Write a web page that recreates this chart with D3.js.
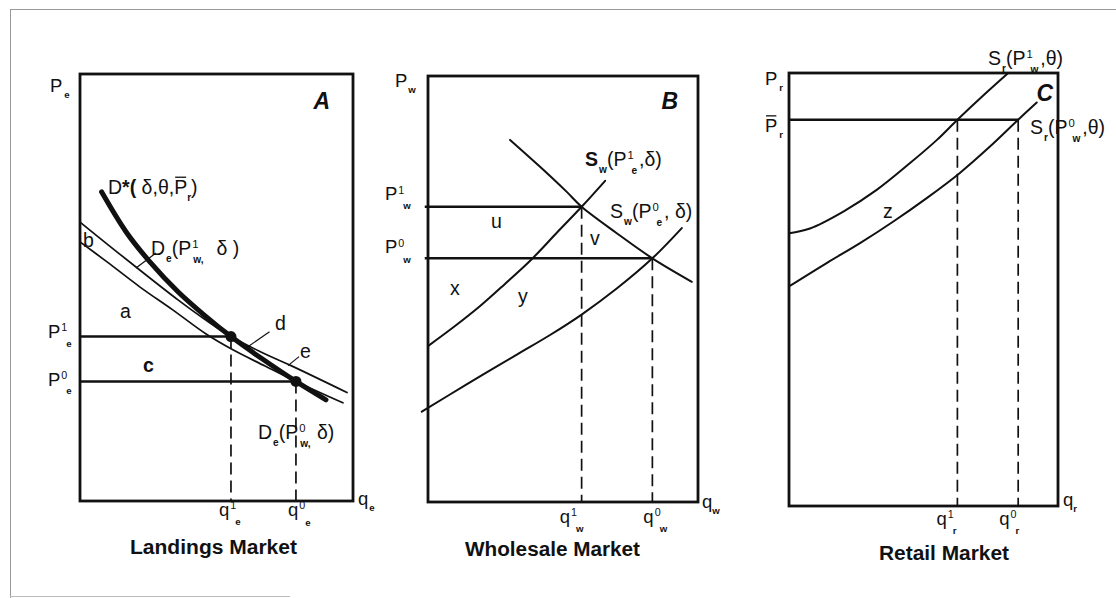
<!DOCTYPE html>
<html><head><meta charset="utf-8">
<script src="https://cdn.jsdelivr.net/npm/d3@7"></script>
<style>
html,body{margin:0;padding:0;background:#fff;}
svg{display:block;}
text{font-family:"Liberation Sans",Arial,Helvetica,sans-serif;fill:#111;white-space:pre;}
</style></head><body>
<svg id="chart" width="1116" height="598"></svg>
<script>
// ---------- curves as (quantity, price) pairs, 0–100 units per panel ----------
// A: landings market
const landingsDStar  = [[7.9,72.4],[16.9,63.0],[25.6,56.0],[35.9,49.0],[45.4,43.6],[55.3,38.5],[66.7,33.3],[79.1,28.0],[90.1,23.7]];
const landingsDeHigh = [[0,65.3],[10.3,60.0],[20.5,54.8],[35.9,47.1],[45.8,42.5],[55.3,38.5],[65.9,35.0],[77.3,31.7],[97.8,25.4]];
const landingsDeLow  = [[0,60.7],[9.9,56.0],[22.0,50.1],[34.1,44.7],[46.2,39.1],[56.0,35.4],[67.8,31.6],[79.1,28.0],[96.3,23.0]];
const landingsPrice  = [38.5, 28.0];   // P1e, P0e
const landingsQty    = [55.3, 79.1];   // q1e, q0e

// B: wholesale market
const wholesaleDemand     = [[30.4,85.0],[41.5,78.7],[51.4,72.8],[56.9,69.3],[69.9,63.1],[83.1,57.2],[97.7,51.7]];
const wholesaleSupplyHigh = [[0,36.6],[10,41.3],[19.3,46.0],[28.5,51.2],[38.4,57.0],[47.7,63.2],[56.9,69.3],[65.6,75.4]];
const wholesaleSupplyLow  = [[-2.3,21.2],[14.3,27.6],[32.9,34.6],[45.2,39.2],[56.9,44.0],[69.9,50.1],[83.1,57.2],[94.0,64.3]];
const wholesalePrice = [69.3, 57.2];   // P1w, P0w
const wholesaleQty   = [56.9, 83.1];   // q1w, q0w

// C: retail market
const retailSupplyHigh = [[0,63.0],[7.8,64.1],[20.2,68.0],[32.6,73.0],[45.0,79.2],[54.9,84.5],[62.6,89.2],[72.2,94.8],[81.5,100]];
const retailSupplyLow  = [[0,50.7],[14.0,56.1],[26.4,60.7],[38.8,65.7],[51.2,71.1],[63.3,76.8],[74.7,83.0],[85.2,89.2],[92.1,93.2]];
const retailPrice = 89.2;              // P-bar r
const retailQty   = [62.6, 85.2];      // q1r, q0r

const panelTitles = ["Landings Market", "Wholesale Market", "Retail Market"];
const panelLetters = ["A", "B", "C"];

// ---------- drawing ----------
const svg = d3.select("#chart");
const INK = "#111";
const LBL = 19.5;   // curve-label size
const AX = 18.5;    // axis-label size

// scanned-page border
svg.append("line").attr("x1",10).attr("y1",9.5).attr("x2",1116).attr("y2",9.5).attr("stroke","#999").attr("stroke-width",1);
svg.append("line").attr("x1",10.5).attr("y1",9).attr("x2",10.5).attr("y2",598).attr("stroke","#999").attr("stroke-width",1);
svg.append("line").attr("x1",10).attr("y1",596.5).attr("x2",290).attr("y2",596.5).attr("stroke","#bbb").attr("stroke-width",1);

const xA = d3.scaleLinear([0,100],[80,353]),  yA = d3.scaleLinear([0,100],[501,74]);
const xB = d3.scaleLinear([0,100],[428,698]), yB = d3.scaleLinear([0,100],[502,76]);
const xC = d3.scaleLinear([0,100],[789,1058]), yC = d3.scaleLinear([0,100],[506,73]);

// text made of normal / superscript / subscript pieces
function rich(x, y, parts, base = LBL, anchor = "start") {
  const grp = svg.append("g");
  let cx = x, lastX = x;
  parts.forEach(p => {
    const k = p.k || "n";
    const size = k === "sup" ? base * 0.58 : k === "sub" ? base * 0.52 : base;
    const dy = (k === "sup" ? -base * 0.36 : k === "sub" ? base * 0.34 : 0) + (p.dy || 0);
    const sx = (p.stack ? lastX : cx) + (p.dx || 0);
    const t = grp.append("text").attr("x", sx).attr("y", y + dy).attr("font-size", size)
      .attr("xml:space", "preserve").text(p.t);
    if (p.w) t.attr("font-weight", p.w);
    if (p.i) t.attr("font-style", "italic");
    const w = t.node().getComputedTextLength();
    if (p.bar) grp.append("line").attr("x1", sx + 1).attr("x2", sx + w - 1)
      .attr("y1", y - base * 0.86).attr("y2", y - base * 0.86).attr("stroke", INK).attr("stroke-width", 1.3);
    if (!p.stack) lastX = sx;
    cx = Math.max(cx, sx + w);
  });
  if (anchor !== "start") {
    const total = cx - x;
    grp.attr("transform", `translate(${anchor === "middle" ? -total / 2 : -total},0)`);
  }
  return grp;
}
function plain(x, y, s, size = 19.5, weight = "normal") {
  return svg.append("text").attr("x", x).attr("y", y).attr("font-size", size).attr("font-weight", weight).text(s);
}
function curve(data, xs, ys, width) {
  svg.append("path").datum(data)
    .attr("d", d3.line().x(d => xs(d[0])).y(d => ys(d[1])).curve(d3.curveCatmullRom.alpha(0.5)))
    .attr("fill", "none").attr("stroke", INK).attr("stroke-width", width)
    .attr("stroke-linecap", "round").attr("stroke-linejoin", "round");
}
function hline(xs, ys, q0, q1, p, w = 2.5) {
  svg.append("line").attr("x1", xs(q0)).attr("x2", xs(q1)).attr("y1", ys(p)).attr("y2", ys(p))
    .attr("stroke", INK).attr("stroke-width", w);
}
function dashed(xs, ys, q, p) {
  svg.append("line").attr("x1", xs(q)).attr("x2", xs(q)).attr("y1", ys(p)).attr("y2", ys(0))
    .attr("stroke", INK).attr("stroke-width", 1.7).attr("stroke-dasharray", "12,6");
}
function frame(xs, ys) {
  svg.append("rect").attr("x", xs(0)).attr("y", ys(100)).attr("width", xs(100) - xs(0)).attr("height", ys(0) - ys(100))
    .attr("fill", "none").attr("stroke", INK).attr("stroke-width", 2.8);
}
function leader(x1, y1, x2, y2) {
  svg.append("line").attr("x1", x1).attr("y1", y1).attr("x2", x2).attr("y2", y2).attr("stroke", INK).attr("stroke-width", 1.2);
}
function letter(s, x, y) {
  svg.append("text").attr("x", x).attr("y", y).attr("font-size", 23).attr("font-weight", "bold")
    .attr("font-style", "italic").attr("text-anchor", "end").text(s);
}
function title(s, cx, y, len) {
  svg.append("text").attr("x", cx).attr("y", y).attr("font-size", 20).attr("font-weight", "bold")
    .attr("text-anchor", "middle").attr("textLength", len).attr("lengthAdjust", "spacingAndGlyphs").text(s);
}

// ===== Panel A =====
plain(xA(0) + 3, 246.5, "b");
frame(xA, yA);
hline(xA, yA, 0, landingsQty[0], landingsPrice[0]);
hline(xA, yA, 0, landingsQty[1], landingsPrice[1]);
dashed(xA, yA, landingsQty[0], landingsPrice[0]);
dashed(xA, yA, landingsQty[1], landingsPrice[1]);
curve(landingsDeHigh, xA, yA, 1.7);
curve(landingsDeLow, xA, yA, 1.7);
curve(landingsDStar, xA, yA, 5);
svg.selectAll("circle.eqA").data(landingsQty.map((q, i) => [q, landingsPrice[i]])).join("circle")
  .attr("class", "eqA").attr("cx", d => xA(d[0])).attr("cy", d => yA(d[1])).attr("r", 5.5).attr("fill", INK);

rich(50, 91.5, [{t:"P"},{t:"e",k:"sub",w:"bold",dx:2}], AX);
rich(48, yA(landingsPrice[0]) + 1.5, [{t:"P"},{t:"1",k:"sup",dx:1},{t:"e",k:"sub",w:"bold",stack:true,dx:5,dy:3}], AX);
rich(48, yA(landingsPrice[1]) + 4.5, [{t:"P"},{t:"0",k:"sup",dx:1},{t:"e",k:"sub",w:"bold",stack:true,dx:5,dy:2}], AX);
rich(xA(landingsQty[0]) - 12, 516, [{t:"q"},{t:"1",k:"sup",dx:1},{t:"e",k:"sub",w:"bold",stack:true,dx:5,dy:3}], AX);
rich(xA(landingsQty[1]) - 8, 516, [{t:"q"},{t:"0",k:"sup",dx:1},{t:"e",k:"sub",w:"bold",stack:true,dx:6,dy:4}], AX);
rich(xA(100) + 5, 505, [{t:"q"},{t:"e",k:"sub",w:"bold",dx:1}], AX);
letter(panelLetters[0], xA(100) - 23, 109);

rich(108, 194, [{t:"D"},{t:"*(",w:"bold"},{t:" δ,θ,"},{t:"P",bar:true},{t:"r",k:"sub",w:"bold"},{t:")"}]);
rich(151, 255, [{t:"D"},{t:"e",k:"sub",w:"bold",dx:1},{t:"(P"},{t:"1",k:"sup",dx:1},{t:"w,",k:"sub",w:"bold",stack:true,dx:1,dy:1},{t:"  δ )",dx:2}]);
rich(258, 439, [{t:"D"},{t:"e",k:"sub",w:"bold",dx:1},{t:"(P"},{t:"0",k:"sup",dx:1},{t:"w,",k:"sub",w:"bold",stack:true,dx:1,dy:1},{t:" δ)",dx:1}]);
{
  const pb = landingsDeHigh[2];
  leader(xA(pb[0]), yA(pb[1]) + 1, xA(pb[0]) + 20, yA(pb[1]) - 14);
  const pd = [(landingsDStar[5][0] + landingsDStar[6][0]) / 2, (landingsDStar[5][1] + landingsDStar[6][1]) / 2];
  leader(xA(pd[0]), yA(pd[1]), xA(pd[0]) + 23, yA(pd[1]) - 16);
  const pe = landingsDeHigh[7];
  leader(xA(pe[0]) - 3, yA(pe[1]), xA(pe[0]) + 8, yA(pe[1]) - 9);
}
plain(120, 318, "a");
plain(143, 371.5, "c", 19.5, "bold");
plain(275, 330, "d");
plain(300, 358, "e");
title(panelTitles[0], 213.5, 554, 167);

// ===== Panel B =====
frame(xB, yB);
hline(xB, yB, -1.2, wholesaleQty[0], wholesalePrice[0]);
hline(xB, yB, -1.2, wholesaleQty[1], wholesalePrice[1]);
dashed(xB, yB, wholesaleQty[0], wholesalePrice[0]);
dashed(xB, yB, wholesaleQty[1], wholesalePrice[1]);
curve(wholesaleDemand, xB, yB, 2);
curve(wholesaleSupplyHigh, xB, yB, 2);
curve(wholesaleSupplyLow, xB, yB, 2);

rich(395, 87, [{t:"P"},{t:"w",k:"sub",w:"bold",dx:1}], AX);
rich(385, yB(wholesalePrice[0]) - 6.5, [{t:"P"},{t:"1",k:"sup",dx:1},{t:"w",k:"sub",w:"bold",stack:true,dx:5,dy:2}], AX);
rich(385, yB(wholesalePrice[1]) - 5, [{t:"P"},{t:"0",k:"sup",dx:1},{t:"w",k:"sub",w:"bold",stack:true,dx:5,dy:3}], AX);
rich(xB(wholesaleQty[0]) - 22, 523, [{t:"q"},{t:"1",k:"sup",dx:1},{t:"w",k:"sub",w:"bold",stack:true,dx:5,dy:3}], AX);
rich(xB(wholesaleQty[1]) - 9, 523, [{t:"q"},{t:"0",k:"sup",dx:1},{t:"w",k:"sub",w:"bold",stack:true,dx:5,dy:3}], AX);
rich(xB(100) + 4, 508, [{t:"q"},{t:"w",k:"sub",w:"bold",dx:0}], AX);
letter(panelLetters[1], xB(100) - 20, 109);
rich(585, 166, [{t:"S",w:"bold"},{t:"w",k:"sub",w:"bold",dx:1},{t:"(P"},{t:"1",k:"sup",dx:1},{t:"e",k:"sub",w:"bold",stack:true,dx:4,dy:1},{t:",δ)",dx:2}]);
rich(610, 218, [{t:"S"},{t:"w",k:"sub",w:"bold",dx:1},{t:"(P"},{t:"0",k:"sup",dx:1},{t:"e",k:"sub",w:"bold",stack:true,dx:4,dy:1},{t:", δ)",dx:2}]);
plain(491, 228, "u");
plain(590, 245, "v");
plain(450, 295, "x");
plain(518, 303, "y");
title(panelTitles[1], 552.5, 556, 175);

// ===== Panel C =====
frame(xC, yC);
hline(xC, yC, 0, retailQty[1], retailPrice);
dashed(xC, yC, retailQty[0], retailPrice);
dashed(xC, yC, retailQty[1], retailPrice);
curve(retailSupplyHigh, xC, yC, 2);
curve(retailSupplyLow, xC, yC, 2);

rich(765, 85, [{t:"P"},{t:"r",k:"sub",w:"bold",dx:2}], AX);
rich(765, yC(retailPrice) + 12, [{t:"P",bar:true},{t:"r",k:"sub",w:"bold",dx:2}], AX);
rich(xC(retailQty[0]) - 21, 525, [{t:"q"},{t:"1",k:"sup",dx:1},{t:"r",k:"sub",w:"bold",stack:true,dx:5,dy:3}], AX);
rich(xC(retailQty[1]) - 19, 525, [{t:"q"},{t:"0",k:"sup",dx:1},{t:"r",k:"sub",w:"bold",stack:true,dx:5,dy:3}], AX);
rich(xC(100) + 5, 506, [{t:"q"},{t:"r",k:"sub",w:"bold",dx:0}], AX);
letter(panelLetters[2], xC(100) - 5, 101);
rich(988, 65, [{t:"S"},{t:"r",k:"sub",w:"bold",dx:1},{t:"(P"},{t:"1",k:"sup",dx:1},{t:"w",k:"sub",w:"bold",stack:true,dx:4,dy:1},{t:",θ)",dx:2}]);
rich(1030, 134, [{t:"S"},{t:"r",k:"sub",w:"bold",dx:1},{t:"(P"},{t:"0",k:"sup",dx:1},{t:"w",k:"sub",w:"bold",stack:true,dx:4,dy:1},{t:",θ)",dx:2}]);
plain(883, 218, "z");
title(panelTitles[2], 944, 560, 130);
</script>
</body></html>
